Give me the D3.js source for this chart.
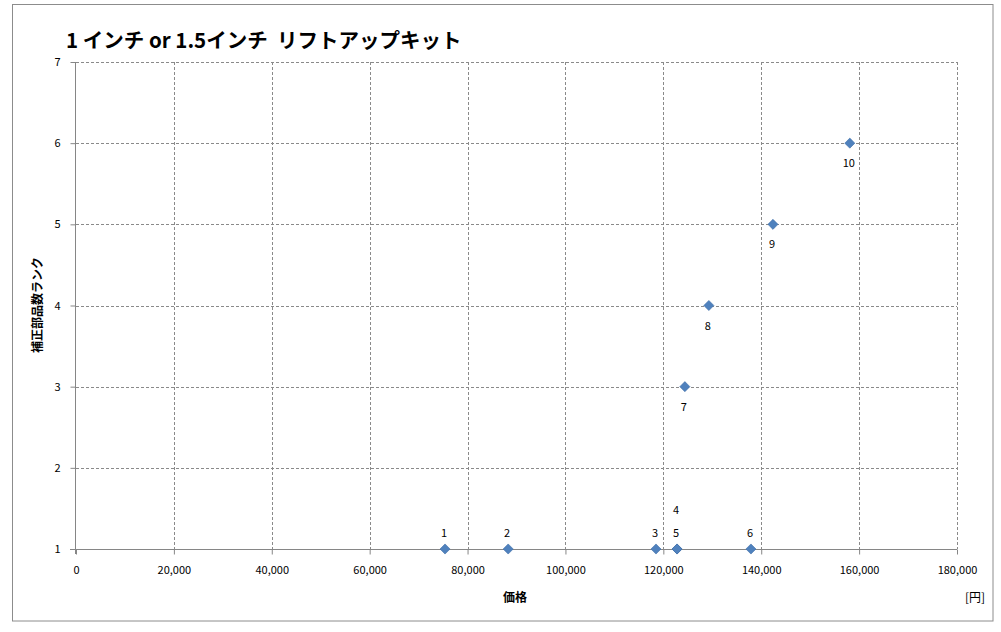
<!DOCTYPE html>
<html><head><meta charset="utf-8">
<script src="https://cdnjs.cloudflare.com/ajax/libs/d3/7.8.5/d3.min.js"></script>
<style>body{margin:0;background:#fff}svg{display:block}</style>
</head><body>
<svg id="c" width="1001" height="632"></svg>
<script>
const labels = ["1","2","3","4","5","6","7","8","9","10"];
const prices = [75400, 88300, 118500, 122800, 122800, 137900, 124400, 129300, 142400, 158100];
const ranks  = [1, 1, 1, 1, 1, 1, 3, 4, 5, 6];
const labelPos = ["above","above","above","above2","above","above","below","below","below","below"];
const xTicks = [0,20000,40000,60000,80000,100000,120000,140000,160000,180000];
const yTicks = [1,2,3,4,5,6,7];
const title = "1 インチ or 1.5インチ  リフトアップキット";
const xTitle = "価格", yTitle = "補正部品数ランク", unit = "[円]";

const svg = d3.select("#c");
const font = "'Noto Sans CJK JP','Noto Sans',sans-serif";
svg.append("rect").attr("x",12.5).attr("y",4.5).attr("width",980.5).attr("height",616.5)
  .attr("fill","#fff").attr("stroke","#8c8c8c").attr("stroke-width",1);

const L=76, R=957, T=62, B=549;
const x = d3.scaleLinear().domain([0,180000]).range([L,R]);
const y = d3.scaleLinear().domain([1,7]).range([B,T]);

// gridlines
const g = svg.append("g");
g.selectAll(".vg").data(xTicks.slice(1)).join("line")
  .attr("x1",d=>Math.round(x(d))+0.5).attr("x2",d=>Math.round(x(d))+0.5)
  .attr("y1",T).attr("y2",B).attr("stroke","#8a8a8a").attr("stroke-dasharray","3,2");
g.selectAll(".hg").data(yTicks.slice(1)).join("line")
  .attr("y1",d=>Math.round(y(d))+0.5).attr("y2",d=>Math.round(y(d))+0.5)
  .attr("x1",L).attr("x2",R).attr("stroke","#8a8a8a").attr("stroke-dasharray","3,2");

// axes
const xAxis = d3.axisBottom(x).tickValues(xTicks).tickSize(5).tickPadding(12)
  .tickFormat(d3.format(","));
const ax = svg.append("g").attr("transform",`translate(0,${B+0.5})`).call(xAxis);
const yAxis = d3.axisLeft(y).tickValues(yTicks).tickSize(5).tickPadding(10).tickFormat(d3.format("d"));
const ay = svg.append("g").attr("transform",`translate(${L-0.5},0)`).call(yAxis);
[ax,ay].forEach(a=>{
  a.select(".domain").attr("stroke","#868686");
  a.selectAll(".tick line").attr("stroke","#868686");
  a.selectAll(".tick text").attr("font-family",font).attr("font-size",11).attr("fill","#000");
});
ax.select(".domain").attr("d",`M${L-6},0H${R}`);
ay.select(".domain").attr("d",`M0,${T}V${B+5}`);

// points
const pts = labels.map((l,i)=>({l, p:prices[i], r:ranks[i], pos:labelPos[i]}));
svg.append("g").selectAll("path").data(pts).join("path")
  .attr("d", d3.symbol().type(d3.symbolDiamond2).size(65))
  .attr("transform",d=>`translate(${x(d.p)},${y(d.r)})`)
  .attr("fill","#4f81bd").attr("stroke","#3f6fa8").attr("stroke-width",0.6);

svg.append("g").selectAll("text").data(pts).join("text")
  .attr("x",d=>x(d.p)-1)
  .attr("y",d=>y(d.r) + (d.pos==="below"?24:d.pos==="above2"?-35:-12))
  .attr("text-anchor","middle").attr("font-family",font).attr("font-size",11).attr("fill","#000")
  .text(d=>d.l);

// titles
svg.append("text").attr("x",66).attr("y",48).attr("font-family",font).attr("font-size",20.5)
  .attr("font-weight","bold").style("white-space","pre").text(title);
svg.append("text").attr("x",515).attr("y",602).attr("text-anchor","middle").attr("font-family",font)
  .attr("font-size",12).attr("font-weight","bold").text(xTitle);
svg.append("text").attr("x",975).attr("y",602).attr("text-anchor","middle").attr("font-family",font)
  .attr("font-size",12).text(unit);
svg.append("text").attr("transform","translate(42,305) rotate(-90)").attr("text-anchor","middle")
  .attr("font-family",font).attr("font-size",12).attr("font-weight","bold").text(yTitle);
</script>
</body></html>
